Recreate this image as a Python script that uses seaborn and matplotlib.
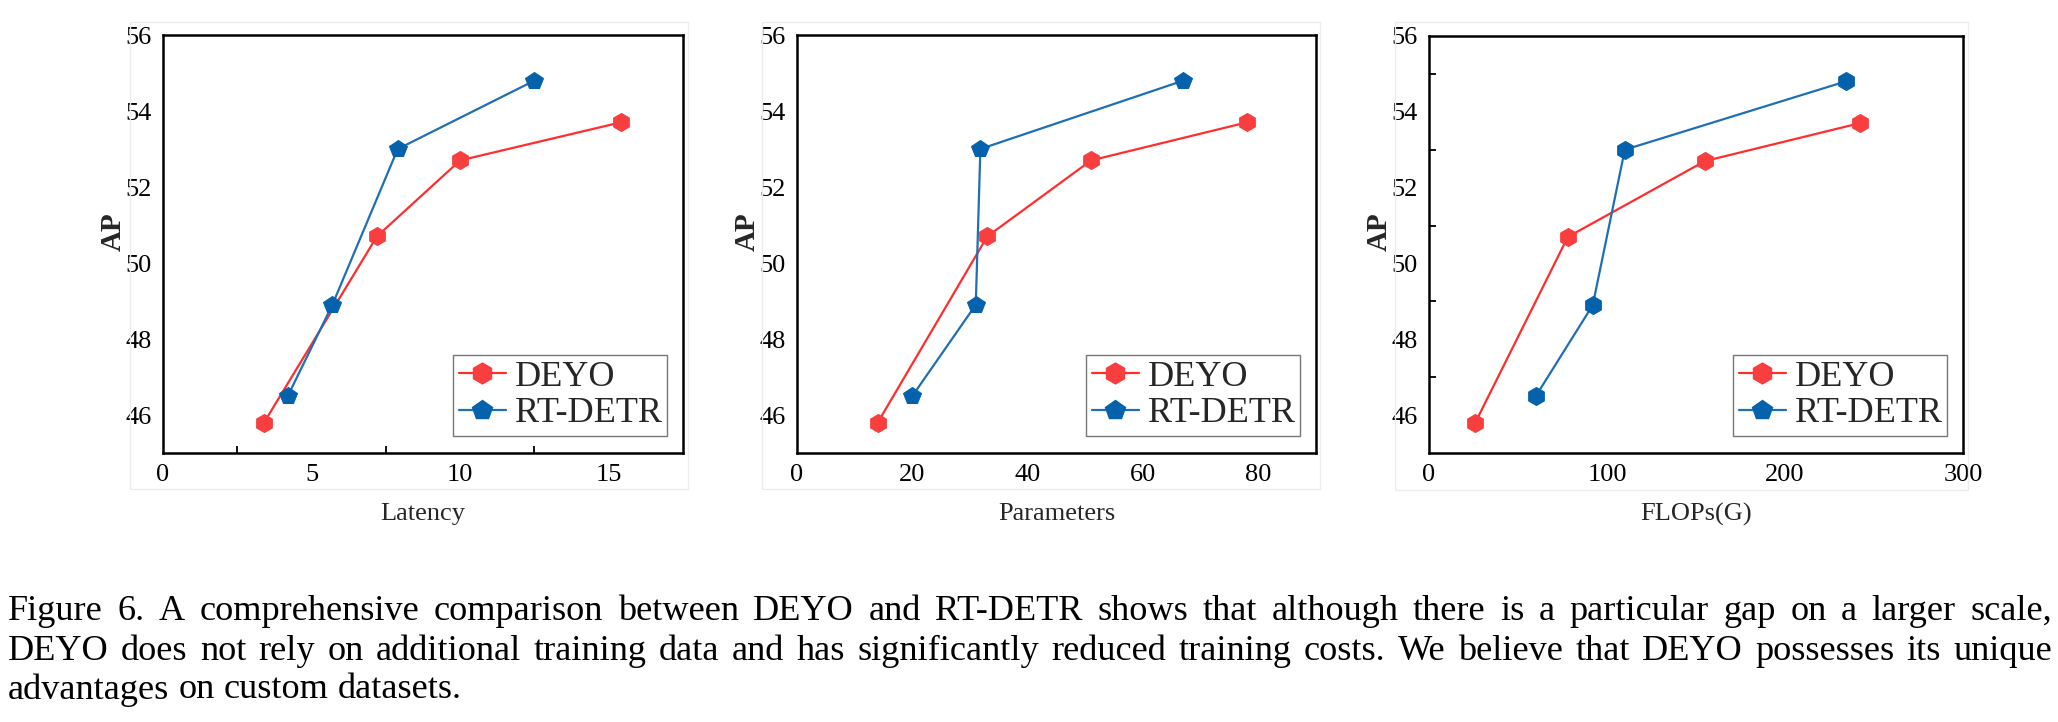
import matplotlib
matplotlib.use("Agg")
import matplotlib.pyplot as plt
import seaborn as sns
from matplotlib.lines import Line2D
from matplotlib.patches import Rectangle
from matplotlib.ticker import MultipleLocator, FixedLocator

# data
ap_deyo = [45.8, 50.7, 52.7, 53.7]
ap_rtdetr = [46.5, 48.9, 53.0, 54.8]

latency_deyo = [3.4, 7.2, 10.0, 15.4]
latency_rtdetr = [4.2, 5.7, 7.9, 12.5]

params_deyo = [14, 33, 51, 78]
params_rtdetr = [20, 31, 31.8, 67]

flops_deyo = [26, 78, 155, 242]
flops_rtdetr = [60, 92, 110, 234]

xlabels = ["Latency", "Parameters", "FLOPs(G)"]
xlims = [(0, 17.5), (0, 90), (0, 300)]
xsteps = [5, 20, 100]

caption = [
    "Figure 6.  A comprehensive comparison between DEYO and RT-DETR shows that although there is a particular gap on a larger scale,",
    "DEYO does not rely on additional training data and has significantly reduced training costs.  We believe that DEYO possesses its unique",
    "advantages on custom datasets.",
]

sns.set_theme(style="white")
plt.rcParams["font.family"] = ["Liberation Serif", "DejaVu Serif"]

red_line, red_mk = "#FF2E2E", "#F83E3E"
blue_line, blue_mk = "#1F6FB4", "#0462AC"

W, H = 2058, 722
fig = plt.figure(figsize=(W / 100, H / 100), dpi=100)

# axes boxes in pixels: left, right, top, bottom
boxes = [(163, 683, 35, 453), (797, 1316, 35, 453), (1429, 1963, 36, 453)]
frames = [(130, 688, 22, 489), (762, 1320, 22, 489), (1395, 1968, 22, 490)]

series = [
    (latency_deyo, latency_rtdetr),
    (params_deyo, params_rtdetr),
    (flops_deyo, flops_rtdetr),
]

for i, ((l, r, t, b), (x_d, x_r)) in enumerate(zip(boxes, series)):
    fl, fr, ft, fb = frames[i]
    fig.patches.append(Rectangle((fl / W, 1 - fb / H), (fr - fl) / W, (fb - ft) / H,
                                 transform=fig.transFigure, fill=False,
                                 edgecolor="#ececec", lw=1.0))
    ax = fig.add_axes([l / W, 1 - b / H, (r - l) / W, (b - t) / H])
    rt_marker = "h" if i == 2 else "p"
    sns.lineplot(x=x_d, y=ap_deyo, ax=ax, sort=False, color=red_line, lw=1.6,
                 marker="h", markersize=13, markerfacecolor=red_mk,
                 markeredgecolor=red_mk)
    sns.lineplot(x=x_r, y=ap_rtdetr, ax=ax, sort=False, color=blue_line, lw=1.6,
                 marker=rt_marker, markersize=13, markerfacecolor=blue_mk,
                 markeredgecolor=blue_mk)
    ax.set_xlim(*xlims[i])
    ax.set_ylim(45, 56)
    ax.xaxis.set_major_locator(MultipleLocator(xsteps[i]))
    ax.yaxis.set_major_locator(FixedLocator([46, 48, 50, 52, 54, 56]))
    for s in ax.spines.values():
        s.set_color("black")
        s.set_linewidth(1.8)
    ax.tick_params(axis="both", which="both", direction="in", labelsize=19,
                   colors="black", width=1.3, pad=8)
    ax.tick_params(axis="y", which="major", length=0)
    if i == 0:
        ax.tick_params(axis="x", which="major", length=0)
        ax.xaxis.set_minor_locator(FixedLocator([2.5, 7.5, 12.5]))
        ax.tick_params(axis="x", which="minor", length=5, bottom=True)
    elif i == 1:
        ax.tick_params(axis="x", which="major", length=5)
    else:
        ax.tick_params(axis="x", which="major", length=5)
        ax.yaxis.set_minor_locator(FixedLocator([47, 49, 51, 53, 55]))
        ax.tick_params(axis="y", which="minor", length=5, left=True)
    ax.set_xlabel(xlabels[i], fontsize=19, labelpad=12)
    ax.set_ylabel("AP", fontsize=21, fontweight="bold")
    ax.yaxis.set_label_coords(-36 / (r - l), 0.53)

    handles = [
        Line2D([], [], color=red_line, lw=1.6, marker="h", markersize=15,
               markerfacecolor=red_mk, markeredgecolor=red_mk),
        Line2D([], [], color=blue_line, lw=1.6, marker="p", markersize=15,
               markerfacecolor=blue_mk, markeredgecolor=blue_mk),
    ]
    leg = ax.legend(handles, ["DEYO", "RT-DETR"], loc="lower right", fontsize=26,
                    frameon=True, fancybox=False, edgecolor="#777777",
                    framealpha=1, handlelength=1.3, borderpad=0.15,
                    labelspacing=0.1, handletextpad=0.25, borderaxespad=0.3,
                    bbox_to_anchor=(0.99, 0.015))
    leg.get_frame().set_linewidth(1.0)

# caption, justified like the paper
renderer = fig.canvas.get_renderer()
x0, x1 = 8, 2052
probe = fig.text(0, 0, caption[0], fontsize=20)
size = 20 * (x1 - x0) / probe.get_window_extent(renderer).width * 0.95
probe.remove()

ys = [611, 651, 690]
for k, (line, yy) in enumerate(zip(caption, ys)):
    words = line.split()
    texts = [fig.text(0, 1 - yy / H, w, fontsize=size, color="black",
                      va="center", ha="left") for w in words]
    widths = [t.get_window_extent(renderer).width for t in texts]
    if k < 2:
        gap = (x1 - x0 - sum(widths)) / (len(words) - 1)
    else:
        gap = size * 100 / 72 * 0.25
    x = x0
    for t, w in zip(texts, widths):
        t.set_x(x / W)
        x += w + gap

fig.savefig("out.png", dpi=100)
